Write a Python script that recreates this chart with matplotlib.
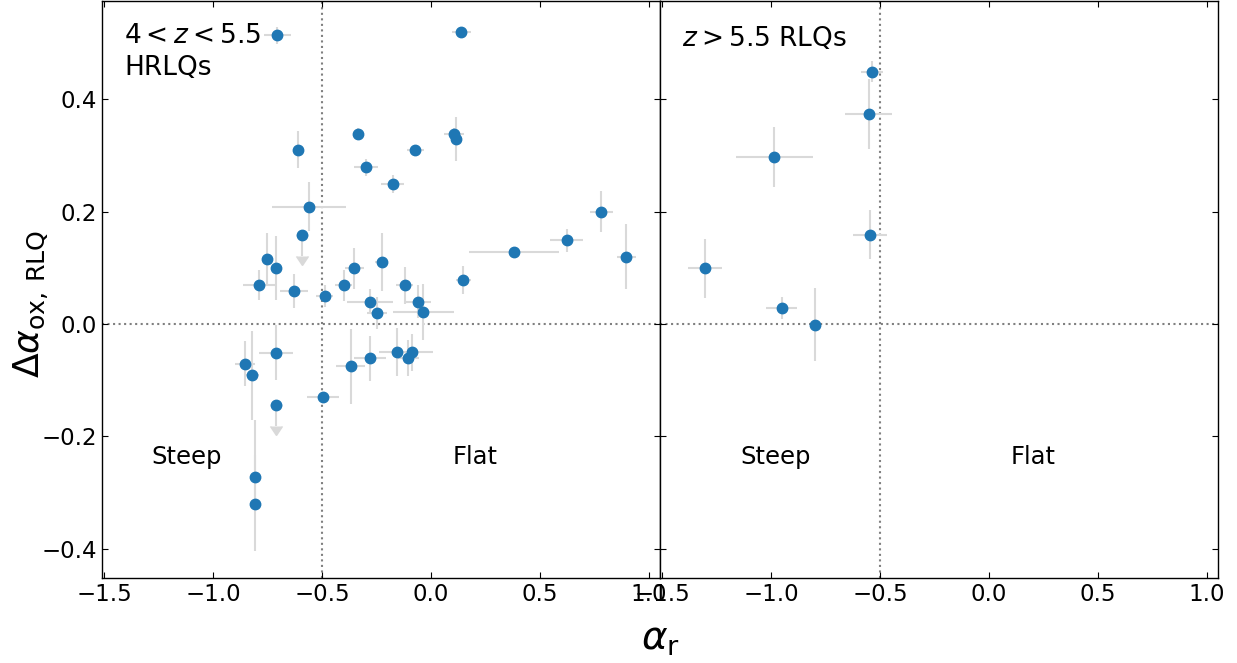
import matplotlib
matplotlib.use("Agg")
import matplotlib.pyplot as plt
import numpy as np

# ---------------- data: 4 < z < 5.5 HRLQs ----------------
hr_alpha_r = [-0.705, -0.611, -0.337, -0.300, -0.561, -0.753, -0.711, -0.789, -0.629, -0.488,
              -0.401, -0.352, -0.282, -0.247, 0.139, 0.104, 0.113, -0.072, -0.177, 0.780,
              0.622, 0.380, 0.896, -0.226, 0.148, -0.122, -0.062, -0.037, -0.158, -0.090,
              -0.107, -0.281, -0.369, -0.497, -0.855, -0.822, -0.711, -0.809, -0.806]
hr_dalpha = [0.514, 0.310, 0.339, 0.279, 0.209, 0.116, 0.099, 0.069, 0.059, 0.050,
             0.069, 0.099, 0.040, 0.020, 0.519, 0.339, 0.329, 0.310, 0.249, 0.200,
             0.149, 0.129, 0.120, 0.110, 0.079, 0.069, 0.040, 0.022, -0.050, -0.050,
             -0.061, -0.061, -0.075, -0.130, -0.071, -0.091, -0.051, -0.272, -0.321]
hr_xerr = [0.060, 0.000, 0.020, 0.055, 0.170, 0.020, 0.020, 0.075, 0.065, 0.040,
           0.040, 0.043, 0.106, 0.045, 0.043, 0.045, 0.010, 0.040, 0.053, 0.053,
           0.075, 0.205, 0.042, 0.030, 0.034, 0.040, 0.060, 0.140, 0.080, 0.100,
           0.050, 0.073, 0.066, 0.074, 0.045, 0.030, 0.078, 0.000, 0.000]
hr_yerr_lo = [0.015, 0.033, 0.010, 0.015, 0.044, 0.046, 0.057, 0.027, 0.030, 0.020,
              0.028, 0.037, 0.022, 0.028, 0.005, 0.010, 0.039, 0.005, 0.016, 0.036,
              0.021, 0.003, 0.058, 0.052, 0.025, 0.033, 0.030, 0.050, 0.043, 0.033,
              0.032, 0.040, 0.067, 0.005, 0.040, 0.079, 0.049, 0.039, 0.083]
hr_yerr_hi = [0.015, 0.033, 0.010, 0.015, 0.044, 0.046, 0.057, 0.027, 0.030, 0.020,
              0.028, 0.037, 0.022, 0.028, 0.005, 0.010, 0.039, 0.005, 0.016, 0.036,
              0.021, 0.003, 0.058, 0.052, 0.025, 0.033, 0.030, 0.050, 0.043, 0.033,
              0.032, 0.040, 0.067, 0.005, 0.040, 0.079, 0.049, 0.039, 0.151]

# upper limits (4 < z < 5.5)
hr_ul_alpha_r = [-0.591, -0.711]
hr_ul_dalpha = [0.159, -0.144]

# ---------------- data: z > 5.5 RLQs ----------------
rl_alpha_r = [-0.538, -0.553, -0.985, -0.547, -1.305, -0.952, -0.800]
rl_dalpha = [0.449, 0.374, 0.297, 0.159, 0.099, 0.029, -0.001]
rl_xerr = [0.050, 0.108, 0.178, 0.078, 0.078, 0.070, 0.000]
rl_yerr = [0.019, 0.062, 0.053, 0.044, 0.052, 0.020, 0.065]

xticks = [-1.5, -1.0, -0.5, 0.0, 0.5, 1.0]
yticks = [-0.4, -0.2, 0.0, 0.2, 0.4]

# ---------------- figure ----------------
W, H = 1237, 663
fig = plt.figure(figsize=(W / 100, H / 100), dpi=100)
ax1 = fig.add_axes([102 / W, 85 / H, 558 / W, 577 / H])
ax2 = fig.add_axes([660 / W, 85 / H, 558 / W, 577 / H], sharey=ax1)

pt_color = "#1f77b4"
err_color = "#d9d9d9"
ms = 7.5

ax1.errorbar(hr_alpha_r, hr_dalpha, xerr=hr_xerr, yerr=[hr_yerr_lo, hr_yerr_hi],
             fmt="o", color=pt_color, ecolor=err_color, elinewidth=1.5,
             markersize=ms, capsize=0, zorder=3)
ax1.errorbar(hr_ul_alpha_r, hr_ul_dalpha, yerr=0.037, uplims=True,
             fmt="none", color=err_color, ecolor=err_color, elinewidth=1.5,
             capsize=4.5, zorder=2.5)
ax1.plot(hr_ul_alpha_r, hr_ul_dalpha, "o", color=pt_color, markersize=ms, zorder=3)
ax2.errorbar(rl_alpha_r, rl_dalpha, xerr=rl_xerr, yerr=rl_yerr,
             fmt="o", color=pt_color, ecolor=err_color, elinewidth=1.5,
             markersize=ms, capsize=0, zorder=3)

for ax in (ax1, ax2):
    ax.axvline(-0.5, color="gray", linestyle=":", linewidth=1.5, zorder=1)
    ax.axhline(0.0, color="gray", linestyle=":", linewidth=1.5, zorder=1)
    ax.set_xlim(-1.51, 1.05)
    ax.set_ylim(-0.452, 0.575)
    ax.set_xticks(xticks)
    ax.set_yticks(yticks)
    ax.tick_params(direction="in", top=True, right=True, labelsize=16.5, length=4)
    for s in ax.spines.values():
        s.set_linewidth(1.0)

ax2.tick_params(labelleft=False)

ax1.text(0.04, 0.962, "$4 < z < 5.5$\nHRLQs", transform=ax1.transAxes,
         ha="left", va="top", fontsize=19, linespacing=1.3)
ax2.text(0.04, 0.958, "$z > 5.5$ RLQs", transform=ax2.transAxes,
         ha="left", va="top", fontsize=19)

ax1.text(-1.12, -0.237, "Steep", ha="center", va="center", fontsize=17.5)
ax1.text(0.2, -0.237, "Flat", ha="center", va="center", fontsize=17.5)
ax2.text(-0.98, -0.237, "Steep", ha="center", va="center", fontsize=17.5)
ax2.text(0.2, -0.237, "Flat", ha="center", va="center", fontsize=17.5)

ax1.set_ylabel(r"$\Delta\alpha_{\rm ox,\,RLQ}$", fontsize=26)
ax1.yaxis.set_label_coords(-0.093, 0.475)
fig.text(0.5 * (102 + 1218) / W, 0.008, r"$\alpha_{\rm r}$", ha="center",
         va="bottom", fontsize=28)

fig.savefig("out.png", dpi=100)
